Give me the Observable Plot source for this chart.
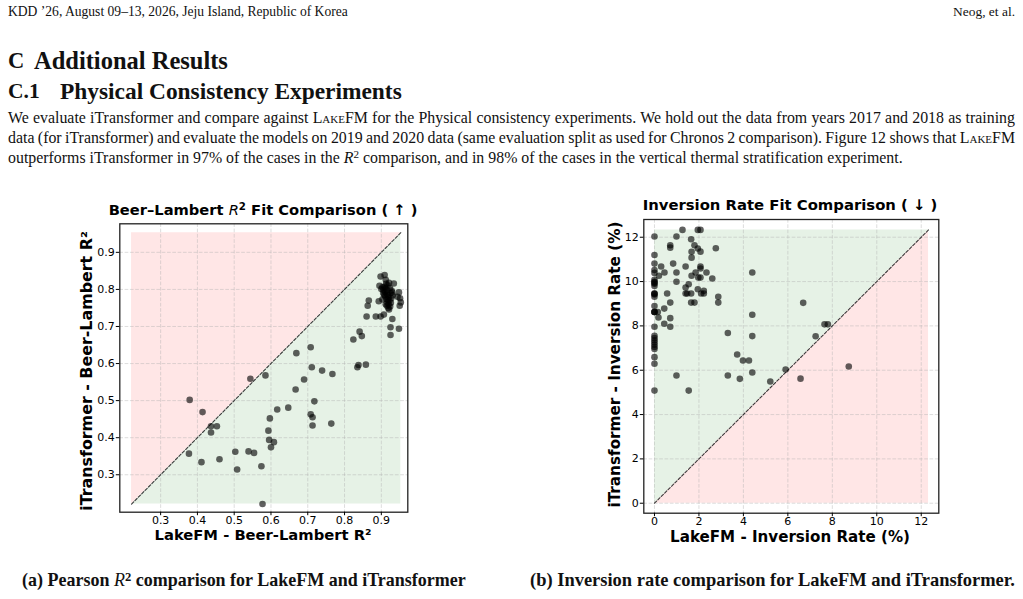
<!DOCTYPE html>
<html><head><meta charset="utf-8">
<script src="https://cdn.jsdelivr.net/npm/d3@7"></script>
<script src="https://cdn.jsdelivr.net/npm/@observablehq/plot@0.6"></script>
<style>
html,body{margin:0;padding:0;background:#fff;}
body{width:1023px;height:599px;position:relative;overflow:hidden;}
.t{position:absolute;white-space:nowrap;line-height:1;}
.serif{font-family:"Liberation Serif","DejaVu Serif",serif;color:#111;}
.sans{font-family:"DejaVu Sans",sans-serif;color:#000;font-weight:bold;}
.sc{font-variant:small-caps;}
.sup{position:relative;top:-0.42em;font-size:0.7em;}
.mi{font-style:italic;font-weight:normal;}
svg.chart{position:absolute;}
</style></head><body>
<script>
// ---------- data ----------
// (a) Beer–Lambert R²: LakeFM (x) vs iTransformer (y)
const r2LakeFM = [0.379,0.414,0.437,0.453,0.437,0.377,0.411,0.460,0.503,0.508,0.539,0.554,0.544,0.585,0.574,0.577,0.593,0.597,0.595,0.600,0.608,0.617,0.647,0.669,0.708,0.711,0.739,0.767,0.690,0.667,0.718,0.708,0.713,0.713,0.764,0.824,0.841,0.847,0.835,0.838,0.858,0.866,0.863,0.860,0.885,0.898,0.907,0.921,0.930,0.925,0.948,0.925,0.898,0.909,0.912,0.934,0.895,0.900,0.948,0.951,0.950,0.953,0.944,0.893,
  0.903,0.906,0.910,0.915,0.912,0.918,0.920,0.914,0.922,0.917,0.920,0.924,0.912,0.908,0.903,0.925,0.928,0.917,0.923,0.913,0.927,0.919,0.930,0.916,0.921,0.926,0.918,0.911,0.905,0.931,0.915,0.909];
const r2ITrans = [0.502,0.469,0.431,0.431,0.414,0.357,0.334,0.342,0.362,0.314,0.363,0.359,0.559,0.568,0.323,0.221,0.419,0.452,0.394,0.374,0.388,0.476,0.481,0.628,0.644,0.590,0.581,0.572,0.557,0.530,0.498,0.463,0.455,0.433,0.438,0.665,0.686,0.674,0.590,0.596,0.597,0.770,0.756,0.727,0.727,0.727,0.732,0.746,0.720,0.698,0.694,0.677,0.835,0.839,0.826,0.816,0.810,0.801,0.792,0.776,0.756,0.765,0.780,0.768,
  0.806,0.798,0.793,0.788,0.803,0.784,0.779,0.774,0.770,0.765,0.759,0.754,0.760,0.785,0.773,0.790,0.797,0.811,0.804,0.815,0.776,0.750,0.792,0.797,0.818,0.764,0.772,0.781,0.790,0.784,0.756,0.808];
const r2Ticks = [0.3,0.4,0.5,0.6,0.7,0.8,0.9];

// (b) Inversion rate (%): LakeFM (x) vs iTransformer (y)
const invLakeFM = [0,0,0,0,0,0,0,0,0,0,0,0,0,0,0,0,0,0,0,0,0,0,0,0,0,0,0,0,0,
  0.20,0.30,0.15,0.18,0.44,0.44,0.45,0.57,0.71,0.71,0.71,0.71,0.71,0.84,0.99,0.99,0.99,0.99,1.26,1.40,1.40,1.40,1.47,1.54,1.54,1.65,1.67,1.67,1.67,1.65,1.65,1.80,1.80,1.85,1.95,2.07,1.95,2.07,1.95,1.97,2.07,2.07,2.07,2.10,2.22,2.22,2.34,2.60,2.76,2.87,2.87,3.30,3.30,3.72,3.84,3.98,4.25,4.40,4.40,4.40,4.40,5.21,5.90,6.57,6.69,7.25,7.65,7.80,8.74];
const invITrans = [12.03,11.20,10.81,10.52,10.39,10.08,9.99,9.95,9.90,9.80,9.46,9.46,9.42,9.32,8.90,8.63,8.63,8.63,7.96,7.55,7.45,7.35,7.25,7.15,7.05,6.96,6.59,6.29,5.08,
  10.26,10.68,8.63,8.38,8.78,8.10,10.41,9.46,11.64,11.53,9.05,8.35,7.96,10.81,12.03,10.41,9.99,5.76,12.33,10.68,9.73,9.46,9.46,9.88,5.08,11.91,11.34,11.08,10.26,9.46,9.05,9.05,11.64,10.41,12.33,12.33,11.49,11.35,9.65,10.18,10.18,10.68,10.59,9.46,9.58,9.46,10.41,10.14,11.50,9.31,9.05,7.68,5.76,6.71,5.61,6.44,6.44,10.41,8.50,7.54,5.90,5.49,6.03,5.62,9.04,7.53,8.07,8.07,6.17];
const invTicks = [0,2,4,6,8,10,12];

// ---------- text helper ----------
function put(html, o) {
  const d = document.createElement("div");
  d.className = "t " + (o.cls || "");
  d.innerHTML = html;
  const base = o.size || 14;
  d.style.fontSize = base + "px";
  if (o.weight) d.style.fontWeight = o.weight;
  document.body.appendChild(d);
  let r = d.getBoundingClientRect();
  if (o.w && o.fit === "justify") {
    const n = (d.textContent.match(/ /g) || []).length;
    d.style.wordSpacing = ((o.w - r.width) / n) + "px";
    r = d.getBoundingClientRect();
  } else if (o.w) {
    d.style.fontSize = (base * o.w / r.width) + "px";
    r = d.getBoundingClientRect();
  }
  const left = (o.anchor === "middle" || o.rotate) ? o.x - r.width / 2 : o.anchor === "end" ? o.x - r.width : o.x;
  d.style.left = left + "px";
  d.style.top = (o.y - r.height / 2) + "px";
  if (o.rotate) d.style.transform = "rotate(-90deg)";
  return parseFloat(d.style.fontSize);
}

// ---------- page text ----------
put("KDD ’26, August 09–13, 2026, Jeju Island, Republic of Korea", {cls:"serif", x:8, y:12, w:340, size:12});
put("Neog, et al.", {cls:"serif", x:1015, y:12, w:62, size:12, anchor:"end"});
const hs = put("Additional Results", {cls:"serif", weight:"bold", x:34, y:61, w:194, size:20});
put("C", {cls:"serif", weight:"bold", x:8, y:61, size:hs * 0.92});
const hs2 = put("Physical Consistency Experiments", {cls:"serif", weight:"bold", x:60, y:92, w:342, size:20});
put("C.1", {cls:"serif", weight:"bold", x:8, y:92, size:hs2 * 0.92});

const fs = put('outperforms iTransformer in 97% of the cases in the <i>R</i><span class="sup">2</span> comparison, and in 98% of the cases in the vertical thermal stratification experiment.', {cls:"serif", x:8, y:158, w:895, size:15});
put('We evaluate iTransformer and compare against <span class="sc">LakeFM</span> for the Physical consistency experiments. We hold out the data from years 2017 and 2018 as training', {cls:"serif", x:8, y:118, w:1007, size:fs, fit:"justify"});
put('data (for iTransformer) and evaluate the models on 2019 and 2020 data (same evaluation split as used for Chronos 2 comparison). Figure 12 shows that <span class="sc">LakeFM</span>', {cls:"serif", x:8, y:138, w:1007, size:fs, fit:"justify"});

put('(a) Pearson <span class="mi">R</span><span class="sup">2</span> comparison for LakeFM and iTransformer', {cls:"serif", weight:"bold", x:22, y:580, w:444, size:16});
put('(b) Inversion rate comparison for LakeFM and iTransformer.', {cls:"serif", weight:"bold", x:530, y:580, w:485, size:16});

// chart texts
put('Beer–Lambert <span class="mi">R</span><span class="sup">2</span> Fit Comparison ( ↑ )', {cls:"sans", x:263, y:210, w:309, size:14, anchor:"middle"});
put('LakeFM - Beer-Lambert R²', {cls:"sans", x:263, y:535.5, w:217, size:14, anchor:"middle"});
put('iTransformer - Beer-Lambert R²', {cls:"sans", x:87, y:371, w:280, size:14, rotate:true});
put('Inversion Rate Fit Comparison ( ↓ )', {cls:"sans", x:790, y:205, w:295, size:14, anchor:"middle"});
put('LakeFM - Inversion Rate (%)', {cls:"sans", x:790, y:537.5, w:240, size:14, anchor:"middle"});
put('iTransformer - Inversion Rate (%)', {cls:"sans", x:616, y:365, w:286, size:14, rotate:true});

// ---------- charts ----------
function chart({xs, ys, xDomain, yDomain, ticks, fmt, greenBelow, left, top, width, height, m}) {
  const data = xs.map((x, i) => ({x, y: ys[i]}));
  const lo = Math.min(d3.min(xs), d3.min(ys));
  const hi = Math.max(d3.max(xs), d3.max(ys));
  const diag = [{x: lo}, {x: hi}];
  const green = "rgb(230,242,230)", red = "rgb(255,230,230)";
  const grid = {stroke: "#b0b0b0", strokeOpacity: 0.55, strokeWidth: 0.8, strokeDasharray: "3.7,1.6"};
  const axX = {tickSize: 3.5, tickPadding: 0, tickFormat: fmt, fontSize: 11, label: null, stroke: "#000"};
  const axY = {tickSize: 3.5, tickPadding: 1.5, tickFormat: fmt, fontSize: 11, label: null, stroke: "#000"};
  const svg = Plot.plot({
    width, height,
    marginLeft: m[0], marginRight: m[1], marginTop: m[2], marginBottom: m[3],
    x: {domain: xDomain}, y: {domain: yDomain},
    style: {fontFamily: "DejaVu Sans", fontSize: "11px", background: "transparent", overflow: "visible", color: "#000"},
    marks: [
      Plot.areaY(diag, {x: "x", y1: () => lo, y2: "x", fill: greenBelow ? green : red}),
      Plot.areaY(diag, {x: "x", y1: "x", y2: () => hi, fill: greenBelow ? red : green}),
      Plot.gridX(ticks, grid),
      Plot.gridY(ticks, grid),
      Plot.line(diag, {x: "x", y: "x", stroke: "#3a3a3a", strokeWidth: 1.1, strokeDasharray: "3,1.8"}),
      Plot.dot(data, {x: "x", y: "y", r: 3.3, fill: "black", fillOpacity: 0.62, stroke: "none"}),
      Plot.frame({stroke: "#222", strokeWidth: 1.3}),
      Plot.axisX(ticks, axX),
      Plot.axisY(ticks, axY)
    ]
  });
  svg.classList.add("chart");
  svg.style.left = left + "px";
  svg.style.top = top + "px";
  document.body.appendChild(svg);
}

chart({xs: r2LakeFM, ys: r2ITrans, xDomain: [0.189, 0.972], yDomain: [0.199, 0.977],
  ticks: r2Ticks, fmt: d3.format(".1f"), greenBelow: true,
  left: 60, top: 216, width: 370, height: 320, m: [59.3, 22.7, 7.3, 24.3]});
chart({xs: invLakeFM, ys: invITrans, xDomain: [-0.48, 12.79], yDomain: [-0.45, 12.8],
  ticks: invTicks, fmt: d3.format("d"), greenBelow: false,
  left: 590, top: 212, width: 370, height: 325, m: [53.3, 21.7, 7, 24.3]});
</script>
</body></html>
